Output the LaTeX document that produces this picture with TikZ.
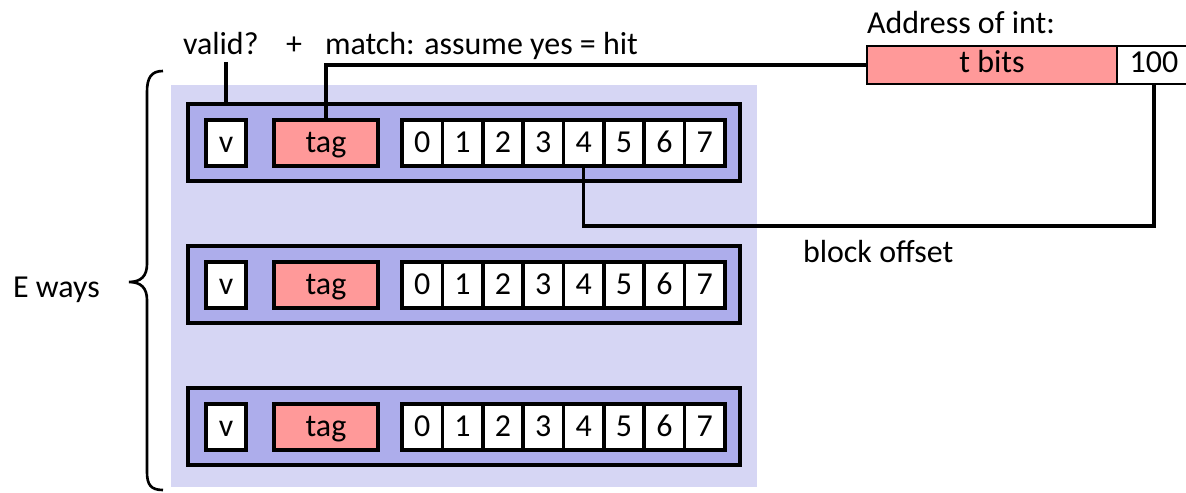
\documentclass[tikz,border=0pt]{standalone}
\usepackage{fontspec}
\setmainfont{Carlito}
\definecolor{waybg}{RGB}{214,214,244}
\definecolor{linebg}{RGB}{173,173,235}
\definecolor{tagpink}{RGB}{255,153,153}
\begin{document}
\begin{tikzpicture}[x=0.02cm, y=-0.02cm,
  font=\fontsize{18.2}{22}\selectfont,
  box/.style={rectangle, draw, line width=2pt, inner sep=0pt, outer sep=0pt,
    text height=11.3pt, text depth=0pt},
  cellbox/.style={box, fill=white, minimum width=0.8075cm, minimum height=0.92cm},
  validbox/.style={box, fill=white, minimum width=0.8cm, minimum height=0.92cm},
  tagbox/.style={box, fill=tagpink, minimum width=2.08cm, minimum height=0.92cm},
  linebox/.style={box, fill=linebg, minimum width=11.04cm, minimum height=1.54cm},
  addrbox/.style={box, line width=1.4pt, minimum height=0.76cm, text height=9pt},
  wire/.style={line width=2pt},
  label/.style={inner sep=0pt, outer sep=0pt}]
\useasboundingbox (0,0) rectangle (1186,493);

% set of ways
\node[rectangle, fill=waybg, inner sep=0pt, minimum width=11.72cm, minimum height=8.04cm] (ways) at (464,286) {};

% cache lines: valid bit, tag and an 8-byte block
\foreach \r/\yy in {1/142.5, 2/284.5, 3/426.5} {
  \node[linebox] (row\r) at (464,\yy) {};
  \node[validbox] (v\r) at (226,\yy+0.5) {v};
  \node[tagbox] (tag\r) at (326,\yy+0.5) {tag};
  \foreach \i in {0,...,7} {
    \node[cellbox] (c\r-\i) at ({402+40.375*(\i+0.5)},\yy+0.5) {\i};
  }
}

% address being looked up (offset field runs off the right edge)
\node[label, anchor=base west] (addrlbl) at (867,34) {Address of int:};
\node[addrbox, fill=tagpink, minimum width=5.0cm] (tbits) at (992,65) {t bits};
\node[addrbox, fill=white, minimum width=1.48cm] (o100) at (1154,65) {100};

% annotations
\node[label, anchor=base west] (validlbl) at (183,55) {valid?};
\node[label, anchor=base] (pluslbl) at (294,55) {+};
\node[label, anchor=base west] (matchlbl) at (325,55) {match: assume yes = hit};
\node[label, anchor=base west] (offlbl) at (803,262) {block offset};
\node[label, anchor=base west] (eways) at (13,297) {E ways};

% connectors
\coordinate (validtop) at (226,62);
\draw[wire] (validtop) -- (validtop |- row1.north);
\draw[wire] (tbits.west) -| (tag1.north);
\coordinate (offturn) at (580,226);
\draw[wire] (c1-4.south) -- (c1-4.south |- offturn) -| (o100.south);

% brace spanning the ways
\draw[line width=1.5pt] (163,71) .. controls (151,71) and (147,78) .. (147,92)
  -- (147,264) .. controls (147,276) and (141,282) .. (129,282)
  .. controls (141,282) and (147,288) .. (147,300)
  -- (147,472) .. controls (147,485) and (151,490) .. (163,490);
\end{tikzpicture}
\end{document}
